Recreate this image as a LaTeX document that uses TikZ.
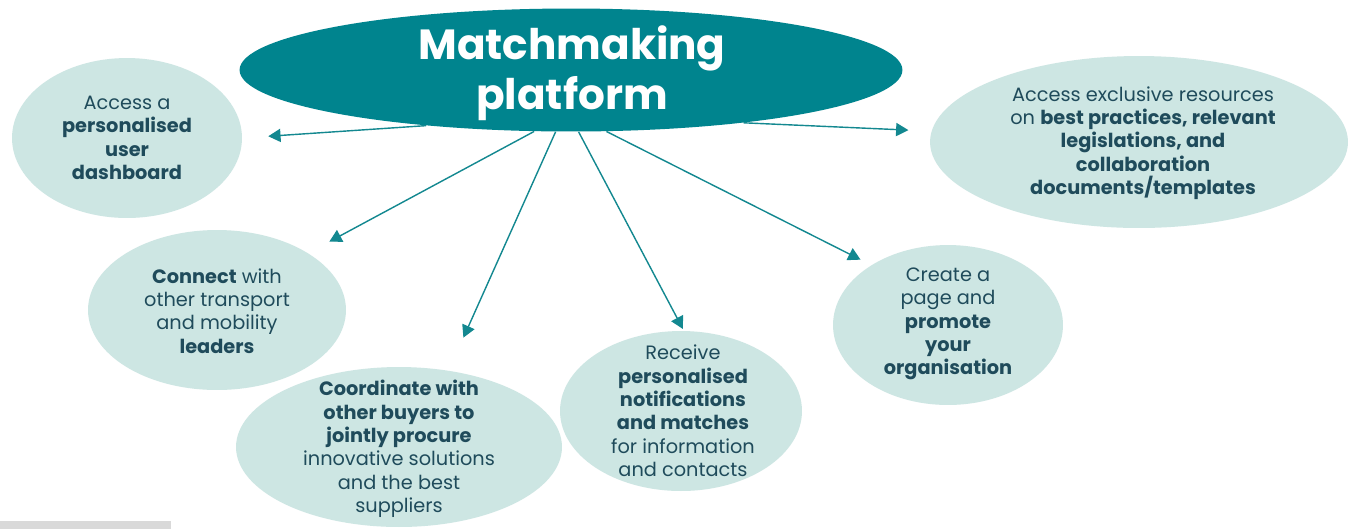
\documentclass[tikz,border=0pt]{standalone}
\usepackage{fontspec}
\setmainfont{Poppins}
\usetikzlibrary{arrows.meta,shapes.geometric}
\definecolor{hubteal}{HTML}{00848E}
\definecolor{bubble}{HTML}{CDE6E3}
\definecolor{ink}{HTML}{1F4B5B}
\definecolor{linkteal}{HTML}{138890}

\begin{document}
\begin{tikzpicture}[x=0.02cm,y=-0.02cm,
	blob/.style={ellipse,fill=bubble,inner sep=0pt},
	blurb/.style={align=center,text=ink,inner sep=0pt,font=\fontsize{11}{13.3}\selectfont},
	link/.style={linkteal,line width=0.8pt,-{Triangle[length=7pt,width=7.5pt]}}]
	%frame
	\useasboundingbox (0,0) rectangle (1348,529);
	\fill[white] (0,0) rectangle (1348,529);
	\fill[black!15] (0,521) rectangle (171,529); %grey strip

	%bubbles
	\node[blob,minimum width=4.6cm,minimum height=3.2cm] (dash) at (127,138) {}; %dashboard
	\node[blob,minimum width=8.36cm,minimum height=3.44cm] (res) at (1139,142) {}; %resources
	\node[blob,minimum width=5.16cm,minimum height=3.2cm] (peers) at (217,310) {}; %connect
	\node[blob,minimum width=6.52cm,minimum height=3.2cm] (buyers) at (399,447) {}; %procure
	\node[blob,minimum width=4.84cm,minimum height=3.2cm] (alerts) at (681,411) {}; %notifications
	\node[blob,minimum width=4.6cm,minimum height=3.2cm] (promo) at (948,325) {}; %promote

	%bubble texts
	\node[blurb] (dashtxt) at (127,138) {Access a\\\textbf{personalised}\\\textbf{user}\\\textbf{dashboard}};
	\node[blurb] (restxt) at (1143,143) {Access exclusive resources\\on \textbf{best practices, relevant}\\\textbf{legislations, and}\\\textbf{collaboration}\\\textbf{documents/templates}};
	\node[blurb] (peerstxt) at (217,311) {\textbf{Connect} with\\other transport\\and mobility\\\textbf{leaders}};
	\node[blurb] (buyerstxt) at (399,449) {\textbf{Coordinate with}\\\textbf{other buyers to}\\\textbf{jointly procure}\\innovative solutions\\and the best\\suppliers};
	\node[blurb] (alertstxt) at (683,411) {Receive\\\textbf{personalised}\\\textbf{notifications}\\\textbf{and matches}\\for information\\and contacts};
	\node[blurb] (promotxt) at (948,324) {Create a\\page and\\\textbf{promote}\\\textbf{your}\\\textbf{organisation}};

	%hub
	\node[ellipse,fill=hubteal,inner sep=0pt,minimum width=13.26cm,minimum height=2.46cm] (hub) at (571,70) {};
	\node[text=white,align=center,inner sep=0pt,font=\bfseries\fontsize{24}{28.4}\selectfont] (hubtxt) at (572,73) {Matchmaking\\platform};

	%arrows
	\draw[link,shorten >=0.52cm] (hub.201) -- (dash.east);
	\draw[link,shorten >=0.46cm] (hub.343) -- (res.177);
	\draw[link,shorten >=0.48cm] (hub.239) -- (peers.32);
	\draw[link,shorten >=0.72cm] (hub.256) -- (buyers.57);
	\draw[link,shorten >=0.04cm] (hub.277) -- (alerts.88);
	\draw[link,shorten >=0.24cm] (hub.300) -- (promo.142);
\end{tikzpicture}
\end{document}
